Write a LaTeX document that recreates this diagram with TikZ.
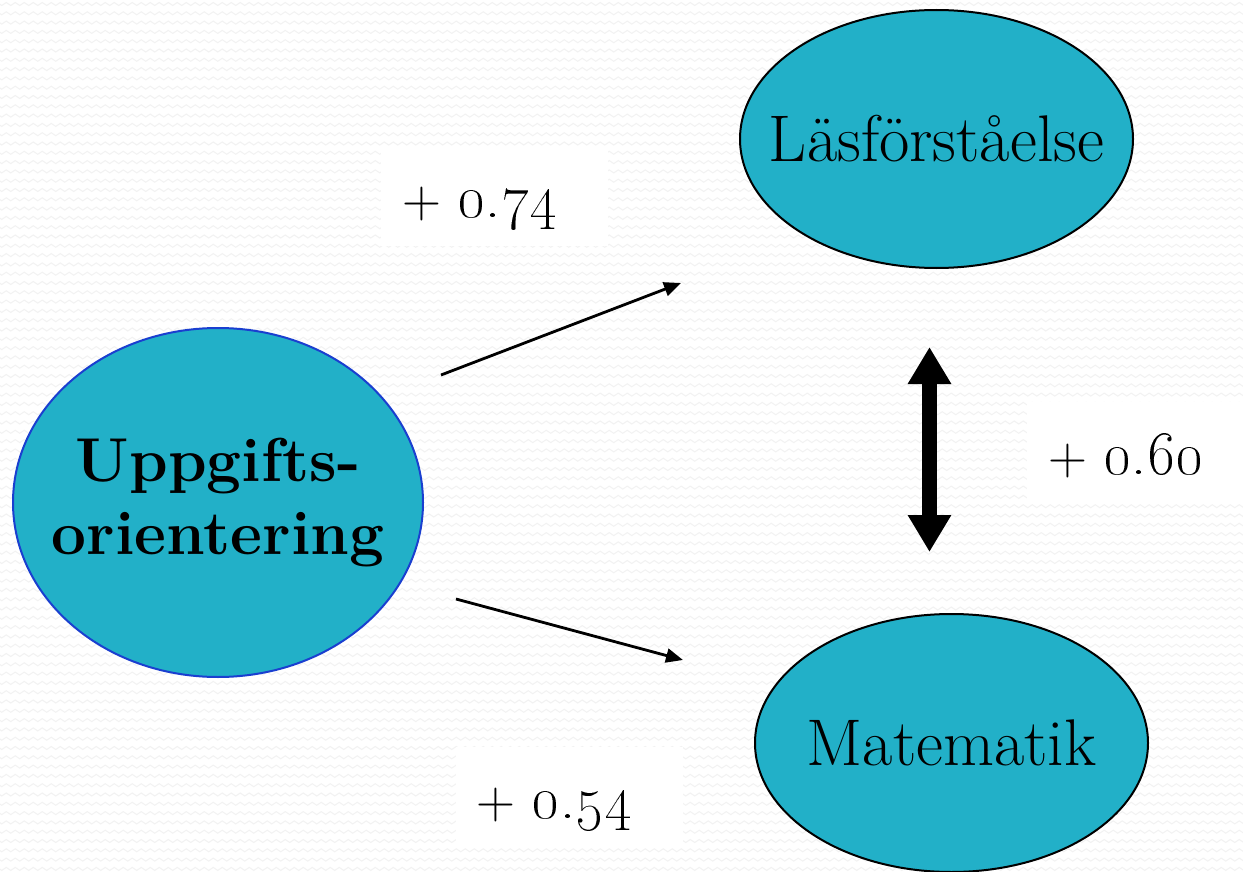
\documentclass[tikz,border=0pt]{standalone}
\usetikzlibrary{shapes.geometric,arrows.meta,decorations.pathmorphing}
\definecolor{ovalfill}{HTML}{22B0C8}
\definecolor{ovalblue}{HTML}{1A3FD0}
\newcommand{\osnum}[1]{\scalebox{2.5}{\fontsize{24.88}{26}\selectfont\oldstylenums{#1}}}
\begin{document}
\begin{tikzpicture}[x=1pt,y=-1pt,
  bgzz/.style={draw=black!5,line width=1pt,decorate,decoration={zigzag,segment length=9pt,amplitude=1.5pt}},
  oval/.style={ellipse,fill=ovalfill,line width=2pt,inner sep=0pt},
  ovaltext/.style={font=\fontsize{66}{73}\selectfont,inner sep=0pt},
  lbl/.style={fill=white,minimum height=100pt,text width=185pt,inner xsep=21pt,inner ysep=0pt,
    align=flush left,text height=48pt,text depth=4pt,font=\fontsize{54}{60}\selectfont},
  thinarrow/.style={line width=2.8pt,-{Triangle[length=17pt,width=14pt]}},
  bigarrow/.style={line width=15pt,{Triangle[width=41pt,length=37pt]}-{Triangle[width=41pt,length=37pt]}}
]
\useasboundingbox (0,0) rectangle (1243,872);
\clip (0,0) rectangle (1243,872);
\fill[white] (0,0) rectangle (1243,872);
\foreach \r in {0,...,94} { \draw[bgzz] (-5,{4+\r*9.3}) -- (1250,{4+\r*9.3}); }

\node[oval,draw=black,minimum width=393pt,minimum height=258pt] (las) at (936.5,139) {};
\node[ovaltext] (lastext) at (las.center) {Läsförståelse};
\node[oval,draw=black,minimum width=393pt,minimum height=258pt] (mat) at (951.5,743) {};
\node[ovaltext] (mattext) at (mat.center) {Matematik};
\node[oval,draw=ovalblue,minimum width=410pt,minimum height=349pt] (upp) at (218,502.5) {};
\node[align=center,font=\fontsize{62}{73}\selectfont\bfseries,inner sep=0pt] (upptext) at (upp.center) {Uppgifts-\\orientering};

\node[lbl] (l74) at (494.5,196) {+ \osnum{0.74}};
\node[lbl] (l60) at (1140.5,452) {+ \osnum{0.60}};
\node[lbl] (l54) at (569,796.5) {+ \osnum{0.54}};

\coordinate (a1s) at (441,375);
\coordinate (a1e) at (681,283);
\coordinate (a2s) at (456,599);
\coordinate (a2e) at (683,660);
\coordinate (dt) at (929.5,347);
\coordinate (db) at (929.5,552);
\draw[thinarrow] (a1s) -- (a1e);
\draw[thinarrow] (a2s) -- (a2e);
\draw[bigarrow] (dt) -- (db);
\end{tikzpicture}
\end{document}
